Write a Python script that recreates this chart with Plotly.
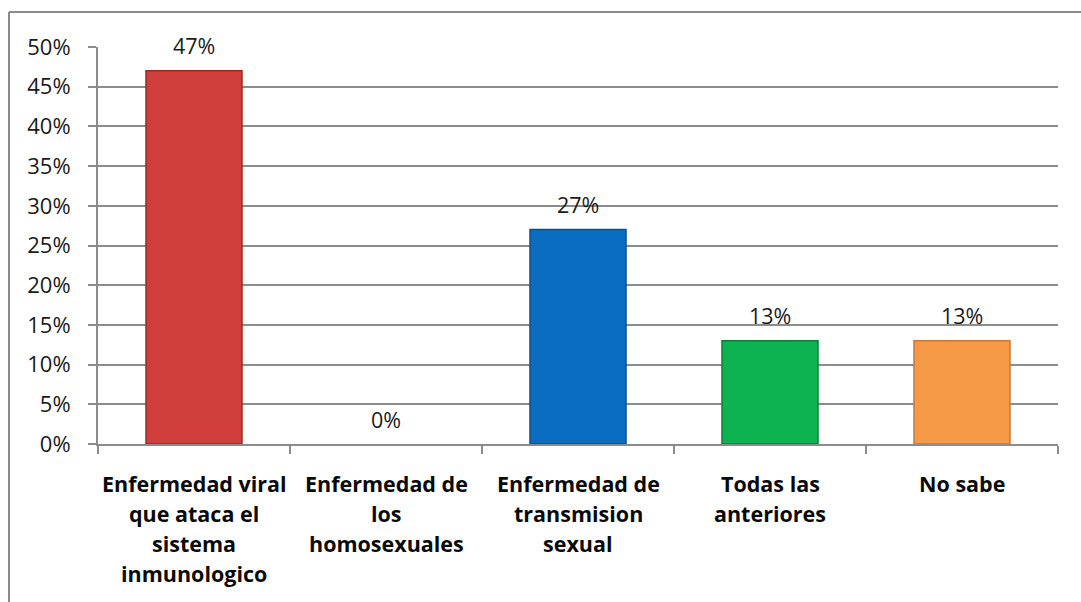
import plotly.graph_objects as go

categories = ["Enfermedad viral que ataca el sistema inmunologico",
              "Enfermedad de los homosexuales",
              "Enfermedad de transmision sexual",
              "Todas las anteriores",
              "No sabe"]
label_lines = [["Enfermedad viral", "que ataca el", "sistema", "inmunologico"],
               ["Enfermedad de", "los", "homosexuales"],
               ["Enfermedad de", "transmision", "sexual"],
               ["Todas las", "anteriores"],
               ["No sabe"]]
values = [0.47, 0.0, 0.27, 0.13, 0.13]
value_labels = ["47%", "0%", "27%", "13%", "13%"]
colors = ["#D03E3B", "#C00000", "#0A6DC2", "#0DB350", "#F79A48"]
edge_colors = ["#9E2A27", "#900000", "#0A4F8E", "#0A7F3A", "#C9783A"]

FONT = "Open Sans"
GRID = "#8C8C8C"

edge_widths = [1.5 if v > 0 else 0 for v in values]

fig = go.Figure()
fig.add_trace(go.Bar(
    x=categories, y=values, width=0.5,
    marker=dict(color=colors, line=dict(color=edge_colors, width=edge_widths)),
    hoverinfo="skip", showlegend=False))

annotations = []
for cat, v, t in zip(categories, values, value_labels):
    annotations.append(dict(x=cat, y=v, xref="x", yref="y", text=t,
                            showarrow=False, yanchor="middle", yshift=25,
                            font=dict(family=FONT, size=21.5, color="#1A1A1A")))
for cat, lines in zip(categories, label_lines):
    for i, line in enumerate(lines):
        annotations.append(dict(x=cat, y=0, xref="x", yref="paper", text="<b>" + line + "</b>",
                                showarrow=False, yanchor="middle", yshift=-(39 + 30 * i),
                                font=dict(family=FONT, size=21.5, color="#0A0A0A")))

W, H = 1081, 602
l, r, t, b = 98, 23, 47, 158
pw, ph = W - l - r, H - t - b
bx = (9 - l) / pw
by = 1 + (t - 12) / ph

fig.update_layout(
    width=W, height=H,
    margin=dict(l=l, r=r, t=t, b=b, pad=0),
    paper_bgcolor="white", plot_bgcolor="white",
    bargap=0.5,
    annotations=annotations,
    shapes=[
        dict(type="line", xref="paper", yref="paper", x0=bx, x1=bx, y0=-1, y1=by,
             line=dict(color="#8A8A8A", width=2)),
        dict(type="line", xref="paper", yref="paper", x0=bx, x1=1.2, y0=by, y1=by,
             line=dict(color="#8A8A8A", width=2)),
    ],
    xaxis=dict(showticklabels=False, ticks="outside", tickson="boundaries", ticklen=8,
               tickcolor=GRID, tickwidth=2, showline=True, linecolor=GRID, linewidth=2,
               showgrid=False),
    yaxis=dict(range=[0, 0.5], dtick=0.05, tickformat=".0%", ticks="outside", ticklen=8,
               tickcolor=GRID, tickwidth=2, showline=True, linecolor=GRID, linewidth=2,
               showgrid=True, gridcolor=GRID, gridwidth=2, zeroline=False,
               ticklabelstandoff=13,
               tickfont=dict(family=FONT, size=22, color="#1A1A1A")),
)

fig.write_html("out.html", config={"displayModeBar": False},
               post_script="document.body.style.margin='0px';")
